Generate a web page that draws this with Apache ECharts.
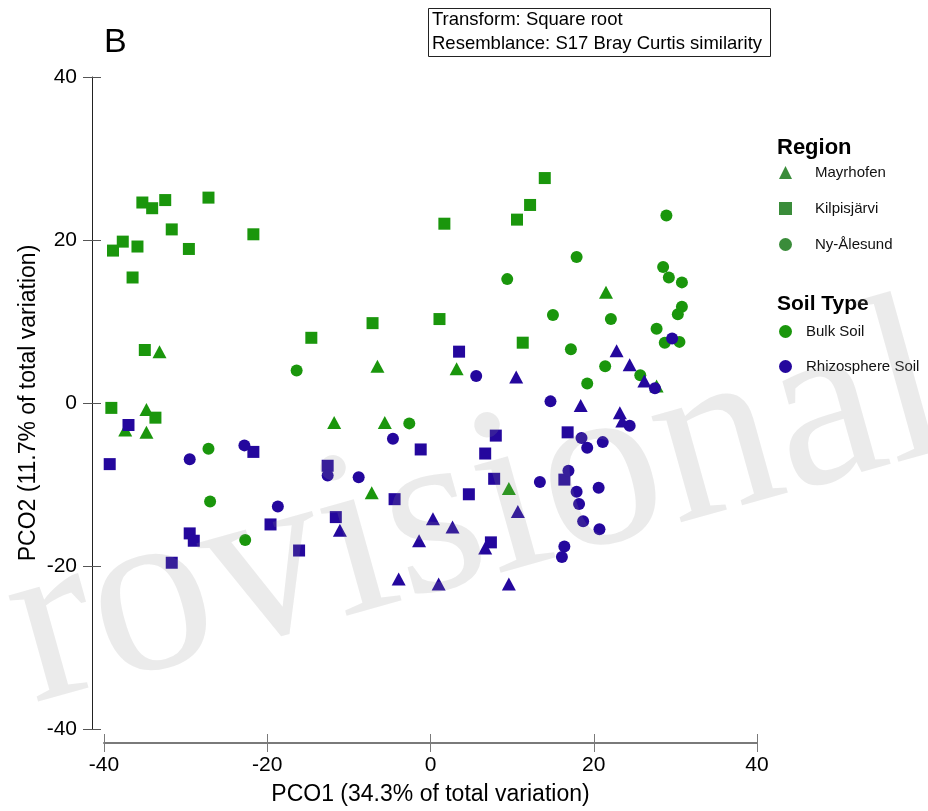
<!DOCTYPE html>
<html>
<head>
<meta charset="utf-8">
<title>PCO - Region / Soil Type</title>
<script src="https://cdn.jsdelivr.net/npm/echarts@6/dist/echarts.min.js"></script>
<style>
html, body { margin: 0; padding: 0; background: #fff; }
#main { width: 928px; height: 811px; }
</style>
</head>
<body>
<div id="main"></div>
<script>
// PCO1 / PCO2 scores, one array per region x soil type
var bulkMayrhofen = [
  [-33.2, 6.3], [-34.8, -0.8], [-37.4, -3.3], [-34.8, -3.6], [-11.8, -2.4], [-5.6, -2.4],
  [-6.5, 4.5], [3.2, 4.2], [-7.2, -11.0], [9.6, -10.5], [21.5, 13.6], [27.7, 2.1]
];
var bulkKilpisjarvi = [
  [-35.3, 24.6], [-34.1, 23.9], [-32.5, 24.9], [-27.2, 25.2], [-31.7, 21.3], [-21.7, 20.7],
  [-37.7, 19.8], [-38.9, 18.7], [-35.9, 19.2], [-29.6, 18.9], [-36.5, 15.4], [-35.0, 6.5],
  [-39.1, -0.6], [-33.7, -1.8], [-14.6, 8.0], [-7.1, 9.8], [1.1, 10.3], [11.3, 7.4],
  [1.7, 22.0], [10.6, 22.5], [12.2, 24.3], [14.0, 27.6]
];
var bulkNyAlesund = [
  [-16.4, 4.0], [-2.6, -2.5], [-27.2, -5.6], [-27.0, -12.1], [-22.7, -16.8], [9.4, 15.2],
  [17.9, 17.9], [15.0, 10.8], [17.2, 6.6], [19.2, 2.4], [21.4, 4.5], [22.1, 10.3],
  [25.7, 3.4], [28.9, 23.0], [28.5, 16.7], [29.2, 15.4], [30.8, 14.8], [30.8, 11.8],
  [30.3, 10.9], [27.7, 9.1], [28.7, 7.4], [30.5, 7.5]
];
var rhizoMayrhofen = [
  [10.5, 3.2], [22.8, 6.4], [24.4, 4.7], [26.2, 2.7], [18.4, -0.3], [23.2, -1.2],
  [23.5, -2.2], [10.7, -13.3], [0.3, -14.2], [2.7, -15.2], [-1.4, -16.9], [6.7, -17.8],
  [-11.1, -15.6], [-3.9, -21.6], [1.0, -22.2], [9.6, -22.2]
];
var rhizoKilpisjarvi = [
  [-37.0, -2.7], [-39.3, -7.5], [-21.7, -6.0], [-19.6, -14.9], [-29.5, -16.0], [-29.0, -16.9],
  [-16.1, -18.1], [-31.7, -19.6], [-12.6, -7.7], [-11.6, -14.0], [-1.2, -5.7], [-4.4, -11.8],
  [8.0, -4.0], [6.7, -6.2], [7.8, -9.3], [4.7, -11.2], [7.4, -17.1], [3.5, 6.3],
  [16.8, -3.6], [16.4, -9.4]
];
var rhizoNyAlesund = [
  [-29.5, -6.9], [-22.8, -5.2], [-18.7, -12.7], [-12.6, -8.9], [-8.8, -9.1], [-4.6, -4.4],
  [5.6, 3.3], [14.7, 0.2], [13.4, -9.7], [18.5, -4.3], [19.2, -5.5], [21.1, -4.8],
  [24.4, -2.8], [16.9, -8.3], [17.9, -10.9], [20.6, -10.4], [18.2, -12.4], [18.7, -14.5],
  [20.7, -15.5], [16.4, -17.6], [16.1, -18.9], [29.6, 7.9], [27.5, 1.8]
];

var regionNames = ['Mayrhofen', 'Kilpisjärvi', 'Ny-Ålesund'];
var soilNames = ['Bulk Soil', 'Rhizosphere Soil'];
var axisTicks = [-40, -20, 0, 20, 40];

var bulkColor = '#1a960c';
var rhizoColor = '#24079d';
var regionColor = '#3a8c3a';
var font = '"Liberation Sans", Arial, sans-serif';

function pointSeries(name, data, symbol, color) {
  return {
    name: name,
    type: 'scatter',
    data: data,
    symbol: symbol,
    symbolSize: symbol === 'triangle' ? [14, 13] : 12,
    itemStyle: { color: color, opacity: 1 },
    emphasis: { disabled: true }
  };
}

// empty series only used to feed the two legends
function legendSeries(name, symbol, color) {
  return { name: name, type: 'scatter', data: [], symbol: symbol, itemStyle: { color: color, opacity: 1 } };
}

function makeXAxis(main) {
  return {
    type: 'value', min: axisTicks[0], max: axisTicks[axisTicks.length - 1], interval: 20,
    position: 'bottom', offset: 14,
    splitLine: { show: false },
    axisLine: { show: main, onZero: false, lineStyle: { color: '#7a7a7a', width: 2 } },
    axisTick: { show: true, inside: !main, length: 9, lineStyle: { color: '#7a7a7a', width: 1 } },
    axisLabel: { show: main, margin: 12, fontSize: 21, color: '#000', fontFamily: font },
    name: main ? 'PCO1 (34.3% of total variation)' : '',
    nameLocation: 'middle', nameGap: 40, nameMoveOverlap: false,
    nameTextStyle: { fontSize: 23, color: '#000', fontFamily: font }
  };
}

function makeYAxis(main) {
  return {
    type: 'value', min: axisTicks[0], max: axisTicks[axisTicks.length - 1], interval: 20,
    position: 'left', offset: 12,
    splitLine: { show: false },
    axisLine: { show: main, onZero: false, lineStyle: { color: '#222', width: 1 } },
    axisTick: { show: true, inside: !main, length: 9, lineStyle: { color: '#555', width: 1 } },
    axisLabel: { show: main, margin: 15, fontSize: 21, color: '#000', fontFamily: font },
    name: main ? 'PCO2 (11.7% of total variation)' : '',
    nameLocation: 'middle', nameGap: 52, nameMoveOverlap: false,
    nameTextStyle: { fontSize: 23, color: '#000', fontFamily: font }
  };
}

var chart = echarts.init(document.getElementById('main'), null, { renderer: 'canvas' });

chart.setOption({
  backgroundColor: '#fff',
  animation: false,
  title: [
    { text: 'B', left: 99, top: 21, textStyle: { fontSize: 34, fontWeight: 'normal', color: '#000', fontFamily: font } },
    { text: 'Region', left: 772, top: 132, textStyle: { fontSize: 22, fontWeight: 'bold', color: '#000', fontFamily: font } },
    { text: 'Soil Type', left: 772, top: 289, textStyle: { fontSize: 21, fontWeight: 'bold', color: '#000', fontFamily: font } }
  ],
  grid: { left: 104, right: 171, top: 77, bottom: 82 },
  xAxis: [makeXAxis(true), makeXAxis(false)],
  yAxis: [makeYAxis(true), makeYAxis(false)],
  legend: [
    {
      data: regionNames.map(function (n, i) {
        return { name: n, icon: ['triangle', 'rect', 'circle'][i], itemStyle: { color: regionColor } };
      }),
      orient: 'vertical', left: 774, top: 160, itemWidth: 13, itemHeight: 13, itemGap: 21,
      selectedMode: false,
      textStyle: { fontSize: 15, color: '#111', fontFamily: font, padding: [0, 0, 0, 18] }
    },
    {
      data: soilNames.map(function (n, i) {
        return { name: n, icon: 'circle', itemStyle: { color: i === 0 ? bulkColor : rhizoColor } };
      }),
      orient: 'vertical', left: 774, top: 319, itemWidth: 13, itemHeight: 13, itemGap: 20,
      selectedMode: false,
      textStyle: { fontSize: 15, color: '#111', fontFamily: font, padding: [0, 0, 0, 9] }
    }
  ],
  graphic: [
    {
      type: 'rect', x: 428.5, y: 8.5, z: 10,
      shape: { width: 342, height: 48 },
      style: { fill: '#fff', stroke: '#222', lineWidth: 1 }
    },
    {
      type: 'text', x: 432, y: 20, z: 11,
      style: { text: 'Transform: Square root', font: '18.5px ' + font, fill: '#000', verticalAlign: 'middle' }
    },
    {
      type: 'text', x: 432, y: 44, z: 11,
      style: { text: 'Resemblance: S17 Bray Curtis similarity', font: '18.5px ' + font, fill: '#000', verticalAlign: 'middle' }
    },
    {
      // watermark laid over the plot
      type: 'text', x: -112, y: 678, rotation: 0.272, z: 100, silent: true,
      style: {
        text: 'Provisional', font: '240px "Liberation Serif", serif',
        fill: 'rgba(145,145,145,0.18)', verticalAlign: 'middle', align: 'left'
      }
    }
  ],
  series: [
    pointSeries('Bulk Soil - Kilpisjärvi', bulkKilpisjarvi, 'rect', bulkColor),
    pointSeries('Bulk Soil - Ny-Ålesund', bulkNyAlesund, 'circle', bulkColor),
    pointSeries('Bulk Soil - Mayrhofen', bulkMayrhofen, 'triangle', bulkColor),
    pointSeries('Rhizosphere Soil - Kilpisjärvi', rhizoKilpisjarvi, 'rect', rhizoColor),
    pointSeries('Rhizosphere Soil - Ny-Ålesund', rhizoNyAlesund, 'circle', rhizoColor),
    pointSeries('Rhizosphere Soil - Mayrhofen', rhizoMayrhofen, 'triangle', rhizoColor),
    legendSeries('Mayrhofen', 'triangle', regionColor),
    legendSeries('Kilpisjärvi', 'rect', regionColor),
    legendSeries('Ny-Ålesund', 'circle', regionColor),
    legendSeries('Bulk Soil', 'circle', bulkColor),
    legendSeries('Rhizosphere Soil', 'circle', rhizoColor)
  ]
});
</script>
</body>
</html>
